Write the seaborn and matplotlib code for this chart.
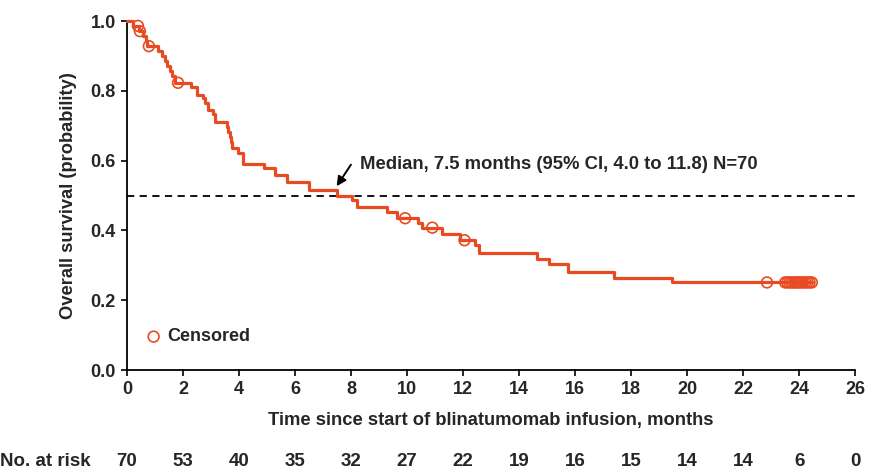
import numpy as np
import pandas as pd
import matplotlib
matplotlib.use("Agg")
import matplotlib.pyplot as plt
import matplotlib.transforms as mtransforms
import seaborn as sns

# ---- data ----
event_times = [0.21, 0.43, 0.57, 0.68, 0.72, 1.12, 1.24, 1.36, 1.42, 1.54, 1.6, 1.7,
               2.3, 2.49, 2.73, 2.79, 2.9, 3.07, 3.14, 3.56, 3.62, 3.68, 3.7, 3.75,
               3.98, 4.15, 4.9, 5.29, 5.71, 6.5, 7.49, 8.04, 8.2, 9.28, 9.63, 10.4,
               10.52, 11.24, 11.9, 12.43, 12.55, 14.63, 15.05, 15.76, 17.37, 19.45]
survival = [0.986, 0.971, 0.957, 0.943, 0.928, 0.914, 0.900, 0.886, 0.872, 0.857, 0.843, 0.823,
            0.810, 0.788, 0.778, 0.764, 0.745, 0.735, 0.712, 0.697, 0.683, 0.668, 0.654, 0.637,
            0.621, 0.590, 0.578, 0.558, 0.540, 0.516, 0.500, 0.487, 0.468, 0.454, 0.435, 0.420,
            0.408, 0.391, 0.372, 0.358, 0.334, 0.317, 0.304, 0.280, 0.265, 0.251]
censor_times = [0.39, 0.46, 0.78, 1.82, 9.93, 10.9, 12.05, 22.85,
                23.5, 23.58, 23.66, 23.74, 23.82, 23.9, 23.97,
                24.05, 24.13, 24.21, 24.29, 24.37, 24.45]
end_time = 24.45
risk_times = list(range(0, 27, 2))
at_risk = [70, 53, 40, 35, 32, 27, 22, 19, 16, 15, 14, 14, 6, 0]
median_text = "Median, 7.5 months (95% CI, 4.0 to 11.8) N=70"

# ---- build tables ----
curve = pd.DataFrame({"time": [0.0] + event_times + [end_time],
                      "surv": [1.0] + survival + [survival[-1]]})
idx = np.searchsorted(np.array(event_times), np.array(censor_times), side="right")
cens_surv = [1.0 if i == 0 else survival[i - 1] for i in idx]
cens = pd.DataFrame({"time": censor_times, "surv": cens_surv})

sns.set_theme(style="ticks")
plt.rcParams["font.family"] = ["Liberation Sans", "DejaVu Sans"]
plt.rcParams["font.weight"] = "bold"

color = "#E84B22"
fig = plt.figure(figsize=(8.7, 4.72), dpi=100)
ax = fig.add_axes([0.146, 0.216, 0.837, 0.7395])

sns.lineplot(data=curve, x="time", y="surv", drawstyle="steps-post", estimator=None,
             color=color, linewidth=2.3, ax=ax, clip_on=False, zorder=3)
sns.scatterplot(data=cens, x="time", y="surv", marker="o", s=60, facecolor="none",
                edgecolor=color, linewidth=1.2, ax=ax, clip_on=False, zorder=4,
                label="Censored")

ax.axhline(0.5, color="black", linestyle=(0, (4, 3)), linewidth=1.3, zorder=2)

ax.annotate("", xy=(7.43, 0.52), xytext=(8.05, 0.595),
            arrowprops=dict(arrowstyle="-|>", color="black", lw=1.4, mutation_scale=14))
ax.text(8.33, 0.59, median_text, ha="left", va="center", fontsize=13.3, fontweight="bold")

ax.set_xlim(0, 26)
ax.set_ylim(0, 1)
ax.set_xticks(risk_times)
ax.set_yticks([0, 0.2, 0.4, 0.6, 0.8, 1.0])
ax.set_yticklabels([f"{v:.1f}" for v in [0, 0.2, 0.4, 0.6, 0.8, 1.0]])
ax.tick_params(axis="both", direction="out", length=4, width=1.2, labelsize=13, color="black",
               pad=4)
for lab in ax.get_xticklabels() + ax.get_yticklabels():
    lab.set_fontweight("bold")
for s in ["left", "bottom"]:
    ax.spines[s].set_linewidth(1.3)
    ax.spines[s].set_color("black")
sns.despine(ax=ax)

ax.set_xlabel("Time since start of blinatumomab infusion, months", fontsize=13.2,
              fontweight="bold", labelpad=10)
ax.set_ylabel("Overall survival (probability)", fontsize=13.2, fontweight="bold", labelpad=10)

leg = ax.legend(loc="lower left", bbox_to_anchor=(0.008, 0.05), frameon=False,
                prop={"size": 13, "weight": "bold"}, handletextpad=0.0, borderaxespad=0,
                handlelength=1.5)

# at-risk row
row_y = 1 - 462 / 472
fig.text(0.0, row_y, "No. at risk", ha="left", va="center", fontsize=13.5, fontweight="bold")
blend = mtransforms.blended_transform_factory(ax.transData, fig.transFigure)
for t, n in zip(risk_times, at_risk):
    ax.text(t, row_y, str(n), transform=blend, ha="center", va="center",
            fontsize=13.5, fontweight="bold")

fig.savefig("out.png", dpi=100)
